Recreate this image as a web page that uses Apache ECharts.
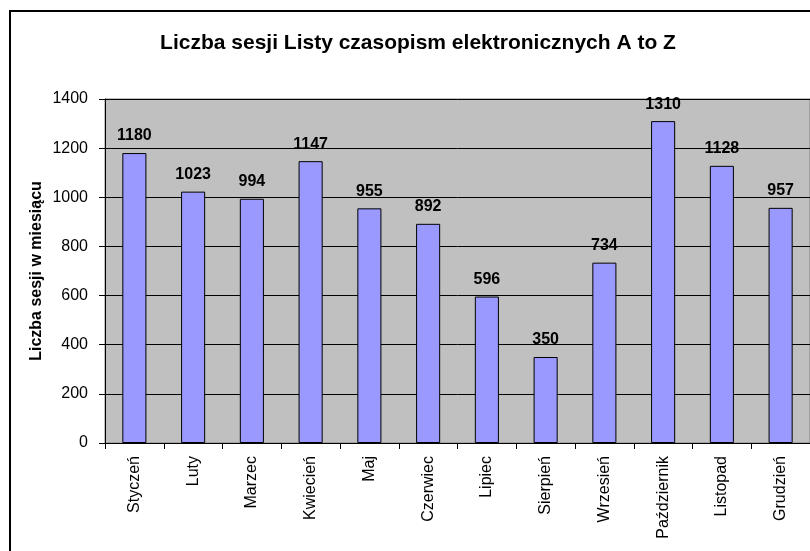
<!DOCTYPE html>
<html><head><meta charset="utf-8">
<script src="https://cdn.jsdelivr.net/npm/echarts@6/dist/echarts.min.js"></script>
<style>html,body{margin:0;padding:0;background:#fff}#c{width:810px;height:551px}</style>
</head><body><div id="c"></div>
<script>
const categories = ['Styczeń','Luty','Marzec','Kwiecień','Maj','Czerwiec','Lipiec','Sierpień','Wrzesień','Październik','Listopad','Grudzień'];
const sessions = [1180, 1023, 994, 1147, 955, 892, 596, 350, 734, 1310, 1128, 957];
const titleText = 'Liczba sesji Listy czasopism elektronicznych A to Z';
const yAxisTitle = 'Liczba sesji w miesiącu';
const yMin = 0, yMax = 1400, yStep = 200;

const chart = echarts.init(document.getElementById('c'), null, {renderer:'canvas'});
const F = 'Arial, "Liberation Sans", sans-serif';
chart.setOption({
  animation:false,
  backgroundColor:'#ffffff',
  graphic:[{type:'rect', shape:{x:10, y:11, width:900, height:700}, style:{fill:'none', stroke:'#000', lineWidth:2}, z:100}],
  title:{text:titleText, left:413, textAlign:'center', top:28, textStyle:{fontFamily:F, fontSize:21, fontWeight:'bold', color:'#000'}},
  grid:{left:105, top:99, width:708, height:344, show:true, backgroundColor:'#c0c0c0', borderColor:'#808080', borderWidth:1},
  xAxis:{type:'category', data:categories,
    axisLine:{lineStyle:{color:'#000', width:1}},
    axisTick:{show:true, length:6, lineStyle:{color:'#000'}, alignWithLabel:false},
    axisLabel:{rotate:90, margin:13, fontFamily:F, fontSize:16, color:'#000', interval:0}},
  yAxis:{type:'value', min:yMin, max:yMax, interval:yStep,
    name:yAxisTitle, nameLocation:'middle', nameGap:60, nameMoveOverlap:false,
    nameTextStyle:{fontFamily:F, fontSize:16, fontWeight:'bold', color:'#000'},
    axisLine:{show:true, lineStyle:{color:'#000'}},
    axisTick:{show:true, length:6, lineStyle:{color:'#000'}},
    axisLabel:{margin:17, fontFamily:F, fontSize:16, color:'#000', formatter:function(v){return String(v);}},
    splitLine:{show:true, lineStyle:{color:'#000', width:1}}},
  series:[{type:'bar', data:sessions, barWidth:'41%',
    itemStyle:{color:'#9999ff', borderColor:'#000', borderWidth:1},
    label:{show:true, position:'top', distance:9, fontFamily:F, fontSize:16, fontWeight:'bold', color:'#000'}}]
});
</script></body></html>
